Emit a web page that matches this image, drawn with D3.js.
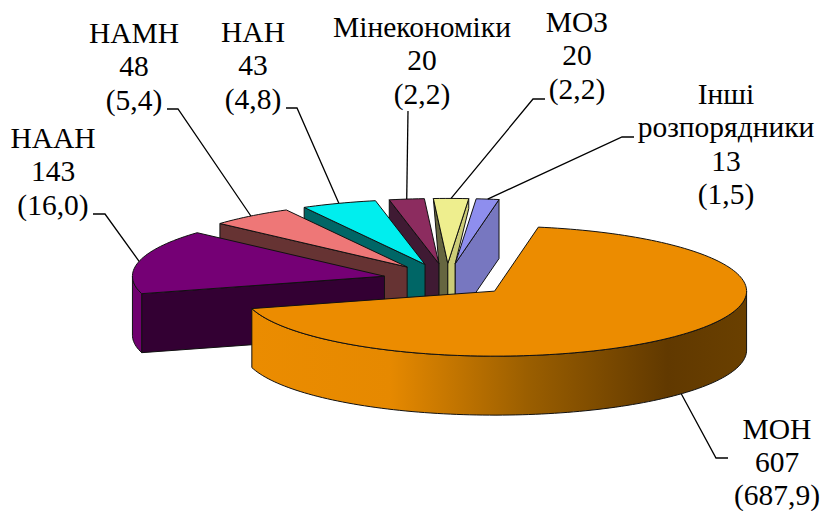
<!DOCTYPE html>
<html><head><meta charset="utf-8">
<script src="https://cdn.jsdelivr.net/npm/d3@7"></script>
<style>html,body{margin:0;padding:0;background:#fff}svg{display:block}</style>
</head><body><div id="c"></div>
<script>
// Data
const names = ["МОН","НААН","НАМН","НАН","Мінекономіки","МОЗ","Інші розпорядники"];
const values = [607,143,48,43,20,20,13];
const shares = ["(687,9)","(16,0)","(5,4)","(4,8)","(2,2)","(2,2)","(1,5)"];
// Styles
const topColors  = ["#EC8C00","#750075","#EE7777","#00EEEE","#8C2C5F","#EEEE8E","#8E8EEE"];
const startFaceColors = ["#000","#330033","#663333","#006666","#3F1A33","#666640","#000"];
const endFaceColors   = ["#000","#000","#000","#000","#000","#CCCC77","#7777C0"];
const rimColors  = ["url(#monGrad)","#70006F","#663333","#006666","#3F1A33","#666640","#7777C0"];
// Layout
const W=821,H=511, CX=447, CY=280, RX=252, RY=65, DEPTH=59, EXPLODE=0.255, START=10;
const drawOrder=[5,6,4,3,2,1,0];
const clippedFaceSlice=5, clippedEndDrop=10;
const labelLines=[
 {x:777,y:439,l:["МОН","607","(687,9)"],dy:33},
 {x:53,y:148,l:["НААН","143","(16,0)"]},
 {x:134,y:43,l:["НАМН","48","(5,4)"]},
 {x:253,y:42,l:["НАН","43","(4,8)"]},
 {x:422,y:37,l:["Мінекономіки","20","(2,2)"]},
 {x:577,y:32,l:["МОЗ","20","(2,2)"]},
 {x:726,y:104,l:["Інші","розпорядники","13","(1,5)"]}];
const leaderEnds=[
 [[716,458],[728,458]],
 [[105,214],[93,214]],
 [[178,109],[167,109]],
 [[297,108],[286,108]],
 [[408,111]],
 [[533,99],[545,99]],
 [[622,137],[634,137]]];

const svg=d3.select("#c").append("svg").attr("width",W).attr("height",H);
const grad=svg.append("defs").append("linearGradient").attr("id","monGrad")
 .attr("gradientUnits","userSpaceOnUse").attr("x1",251).attr("x2",747).attr("y1",0).attr("y2",0);
[[0,"#EB8C00"],[.28,"#E68900"],[.56,"#9A5E00"],[.84,"#613900"],[1,"#6A4000"]].forEach(s=>grad.append("stop").attr("offset",s[0]).attr("stop-color",s[1]));

const x=d3.scaleLinear().domain([-1,1]).range([CX-RX,CX+RX]);
const y=d3.scaleLinear().domain([-1,1]).range([CY+RY,CY-RY]);
const rad=Math.PI/180;
const arcs=d3.pie().sort(null).startAngle(START*rad).endAngle((START+360)*rad)(values);
const lineGen=d3.line();
arcs.forEach(a=>{
  const m=(a.startAngle+a.endAngle)/2;
  a.mid=m;
  a.ox=EXPLODE*Math.sin(m); a.oy=EXPLODE*Math.cos(m);
  a.apex=[x(a.ox),y(a.oy)];
});
const rim=(a,t,d=0)=>[x(a.ox+Math.sin(t)),y(a.oy+Math.cos(t))+d];
const rimPts=(a,t0,t1,d=0)=>{const n=Math.max(2,Math.ceil((t1-t0)/(rad*1.5)));return d3.range(n+1).map(i=>rim(a,t0+(t1-t0)*i/n,d));};
const drawPoly=(pts,fill)=>svg.append("path").attr("d",lineGen(pts)+"Z").attr("fill",fill)
 .attr("stroke","#111").attr("stroke-width",1).attr("stroke-linejoin","round");

function radialFace(a,t,neighbour,fill,drop){
  const s=rim(a,t), ap=a.apex;
  let pts=[s,ap,[ap[0],ap[1]+DEPTH]];
  if(neighbour){
    const nx=neighbour.apex[0];
    pts=pts.concat([[nx,ap[1]+DEPTH],[nx,ap[1]]]);
    if(drop) pts.push([s[0],s[1]+drop]);
  } else {
    pts=pts.concat([[s[0],s[1]+DEPTH]]);
  }
  drawPoly(pts,fill);
}
drawOrder.forEach(i=>{
  const a=arcs[i], t0=a.startAngle, t1=a.endAngle, clip=i===clippedFaceSlice;
  if(Math.sin(t0)<0 && i!==0) radialFace(a,t0,clip?arcs[i-1]:null,startFaceColors[i],0);
  if(Math.sin(t1)>0) radialFace(a,t1,clip?arcs[i+1]:null,endFaceColors[i],clippedEndDrop);
  // outer rim, front half only
  const f0=Math.max(t0,Math.PI/2), f1=Math.min(t1,1.5*Math.PI);
  if(f1>f0){
    const up=rimPts(a,f0,f1), dn=rimPts(a,f0,f1,DEPTH).reverse();
    drawPoly(up.concat(dn),rimColors[i]);
  }
  drawPoly([a.apex].concat(rimPts(a,t0,t1)),topColors[i]);
});
// leader lines
arcs.forEach((a,i)=>{
  const front=Math.cos(a.mid)<0;
  const p=rim(a,a.mid,front?DEPTH:0);
  svg.append("path").attr("d",lineGen([p].concat(leaderEnds[i]))).attr("fill","none").attr("stroke","#000").attr("stroke-width",1.3);
});
// labels
labelLines.forEach(o=>{
  const t=svg.append("text").attr("text-anchor","middle").attr("font-family","'Liberation Serif',serif").attr("font-size",29.5).attr("fill","#000");
  o.l.forEach((s,j)=>t.append("tspan").attr("x",o.x).attr("y",o.y+j*(o.dy||33.4)).text(s));
});
</script></body></html>
